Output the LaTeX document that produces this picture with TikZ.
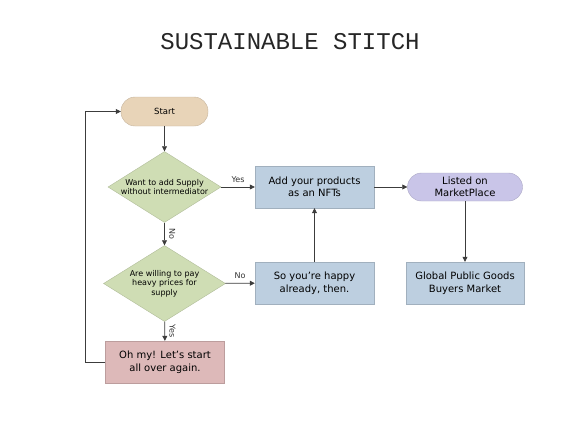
\documentclass[tikz,border=0pt]{standalone}
\usepackage{fontspec}
\setmainfont{DejaVu Sans}
\newfontfamily\titlefont{Liberation Mono}
\usetikzlibrary{arrows.meta,shapes.geometric,positioning}

\definecolor{startfill}{RGB}{232,212,184}
\definecolor{decfill}{RGB}{207,221,180}
\definecolor{procfill}{RGB}{189,207,224}
\definecolor{listfill}{RGB}{201,197,232}
\definecolor{againfill}{RGB}{221,185,185}
\definecolor{linecol}{RGB}{60,60,60}

\begin{document}
\begin{tikzpicture}[x=1pt,y=-1pt,
    terminal/.style={draw=#1!85!black, fill=#1, rounded corners=14pt, minimum width=87pt, minimum height=29pt, align=center, font=\fontsize{8.5}{10}\selectfont},
    decision/.style={diamond, fill=decfill, draw=decfill!85!black, aspect=1.6, inner sep=0pt, align=center, font=\fontsize{8}{9.5}\selectfont},
    process/.style={draw=#1!85!black, fill=#1, minimum width=119pt, minimum height=42pt, align=center, font=\fontsize{10}{12.5}\selectfont},
    link/.style={draw=linecol, line width=0.7pt, -{Triangle[length=5pt,width=5pt]}},
    lbl/.style={font=\fontsize{8}{9.5}\selectfont, text=black!80}]
    \useasboundingbox (0,0) rectangle (579,434);

    % Draw the title
    \node[font=\titlefont\fontsize{24}{27}\selectfont, text=black!85] (title) at (290,42) {SUSTAINABLE STITCH};

    % Draw the shapes
    \node[terminal=startfill] (start) at (164.5,111.5) {Start};
    \node[decision, minimum width=113pt, minimum height=71pt] (supply) at (164.5,187) {Want to add Supply\\without intermediator};
    \node[decision, minimum width=122pt, minimum height=76pt] (pay) at (164.5,283.5) {Are willing to pay\\heavy prices for\\supply};
    \node[process=againfill] (again) at (165,362) {Oh my! Let's start\\all over again.};
    \node[process=procfill] (nft) at (314.5,187) {Add your products\\as an NFTs};
    \node[process=procfill] (happy) at (314.5,283) {So you're happy\\already, then.};
    \node[terminal=listfill, minimum width=115pt, minimum height=28pt, font=\fontsize{10}{12.5}\selectfont] (listed) at (465,187) {Listed on\\MarketPlace};
    \node[process=procfill, minimum width=118pt] (buyers) at (465,283) {Global Public Goods\\Buyers Market};

    % Draw the arrows
    \draw[link] (start) -- (supply);
    \draw[link] (supply) -- node[lbl, above=1pt] {Yes} (nft);
    \draw[link] (supply) -- node[lbl, right=1pt, rotate=-90, anchor=south] {No} (pay);
    \draw[link] (pay) -- node[lbl, above=1pt] {No} (happy);
    \draw[link] (pay) -- node[lbl, right=1pt, rotate=-90, anchor=south] {Yes} (again);
    \draw[link] (happy) -- (nft);
    \draw[link] (nft) -- (listed);
    \draw[link] (listed) -- (buyers);

    % Draw the loop back
    \coordinate (loop) at (85,362);
    \draw[link] (again.west) -- (loop) |- (start.west);
\end{tikzpicture}
\end{document}
